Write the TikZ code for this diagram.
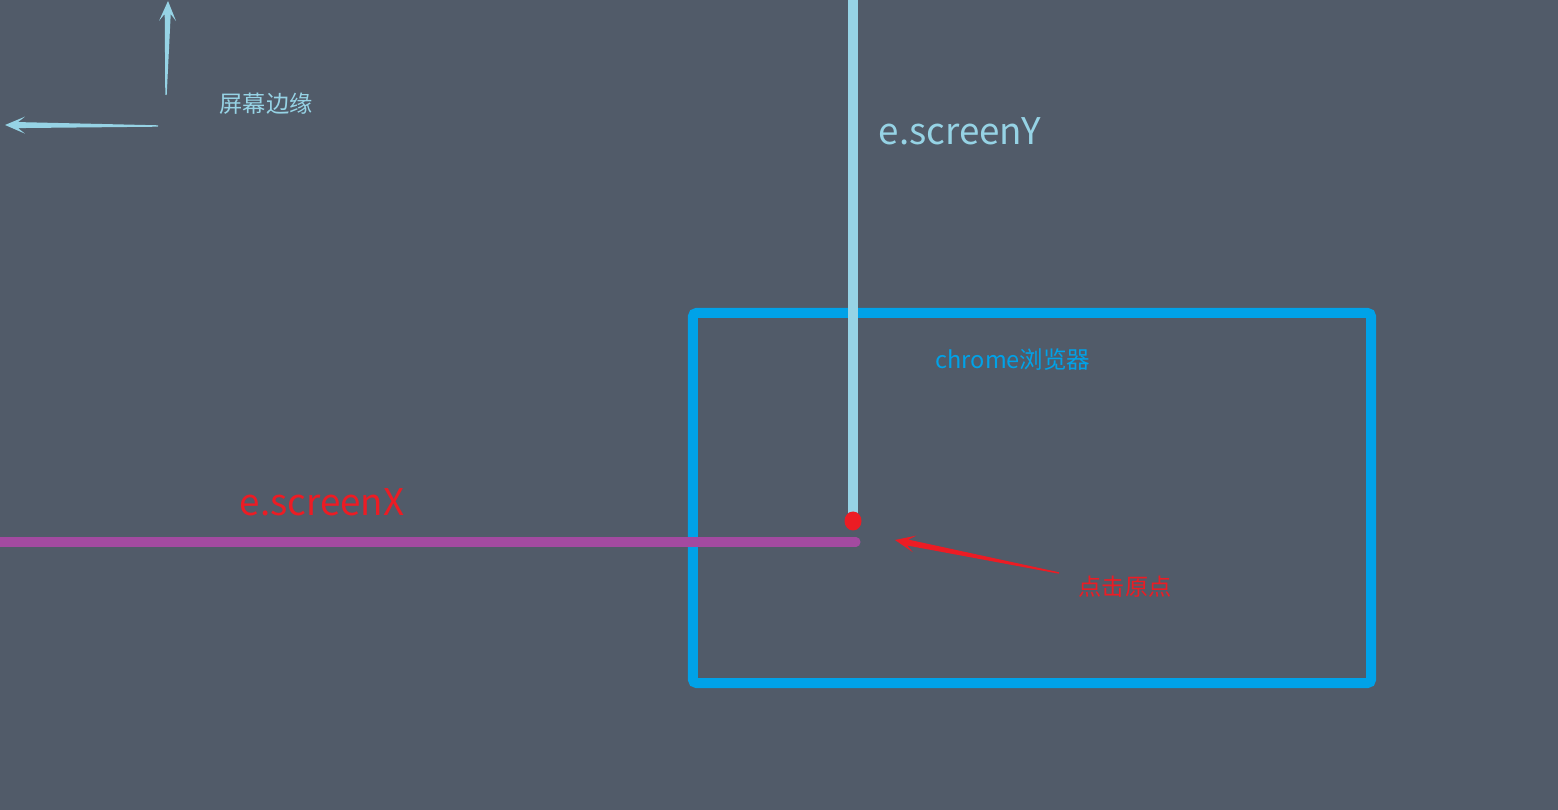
\documentclass[tikz,border=0pt]{standalone}
\usepackage{fontspec}
\setmainfont{Noto Sans CJK SC}
\usetikzlibrary{calc}
\definecolor{bgcol}{HTML}{515B69}
\definecolor{skyblue}{HTML}{96D3E5}
\definecolor{boxblue}{HTML}{00A2E8}
\definecolor{clickred}{HTML}{EC1C24}
\definecolor{linepurple}{HTML}{A34AA0}
\tikzstyle{boxsty}=[draw=boxblue, line width=1mm, rounded corners=0.4mm, inner sep=0pt]
\tikzstyle{yline}=[draw=skyblue, line width=1mm, line cap=round]
\tikzstyle{xline}=[draw=linepurple, line width=0.9mm, line cap=round]
\tikzstyle{labelsty}=[inner sep=0pt, font=\fontsize{6.6}{8}\selectfont]
\tikzstyle{biglabel}=[inner sep=0pt, font=\fontsize{10.45}{12}\selectfont]
% tapered arrow: #1 colour, #2 tail, #3 tip
\newcommand{\taperarrow}[3]{%
  \fill[#1] ($(#2)!0.007cm!90:(#3)$)
    -- ($($(#3)!0.13cm!(#2)$)!0.03cm!90:(#3)$)
    -- ($($(#3)!0.2cm!(#2)$)!0.085cm!90:(#3)$)
    -- (#3)
    -- ($($(#3)!0.2cm!(#2)$)!0.085cm!-90:(#3)$)
    -- ($($(#3)!0.13cm!(#2)$)!0.03cm!-90:(#3)$)
    -- ($(#2)!0.007cm!-90:(#3)$) -- cycle;}

\begin{document}
\begin{tikzpicture}[x=0.01cm, y=-0.01cm]
	\fill[bgcol] (0,0) rectangle (1558,810);
	\useasboundingbox (0,0) rectangle (1558,810);
	
	% screen edge marks
	\coordinate (vtail) at (166,95);
	\coordinate (vtip) at (168,1);
	\coordinate (htail) at (158,126);
	\coordinate (htip) at (5,125);
	\taperarrow{skyblue}{vtail}{vtip}
	\taperarrow{skyblue}{htail}{htip}
	\node[labelsty, text=skyblue] (edge) at (266,104) {屏幕边缘};
	
	% browser window
	\node[boxsty, minimum width=6.78cm, minimum height=3.7cm] (browser) at (1032,498) {};
	\node[labelsty, font=\fontsize{6.7}{8}\selectfont, text=boxblue] (chrome) at (1013,360) {chrome浏览器};
	
	% screen offsets
	\coordinate (ytop) at (853,-10);
	\coordinate (yend) at (853,512);
	\coordinate (xleft) at (-10,542);
	\coordinate (xend) at (856,542);
	\draw[yline] (ytop) -- (yend);
	\draw[xline] (xleft) -- (xend);
	\node[biglabel, text=skyblue] (sy) at (960,131) {e.screenY};
	\node[biglabel, text=clickred] (sx) at (322,502) {e.screenX};
	
	% click point
	\fill[clickred] (853,521) ellipse [x radius=8.5, y radius=9.5];
	\node[labelsty, text=clickred] (click) at (1125,587) {点击原点};
	\coordinate (ctail) at (1059,573);
	\coordinate (ctip) at (895,540);
	\taperarrow{clickred}{ctail}{ctip}
\end{tikzpicture}
\end{document}
